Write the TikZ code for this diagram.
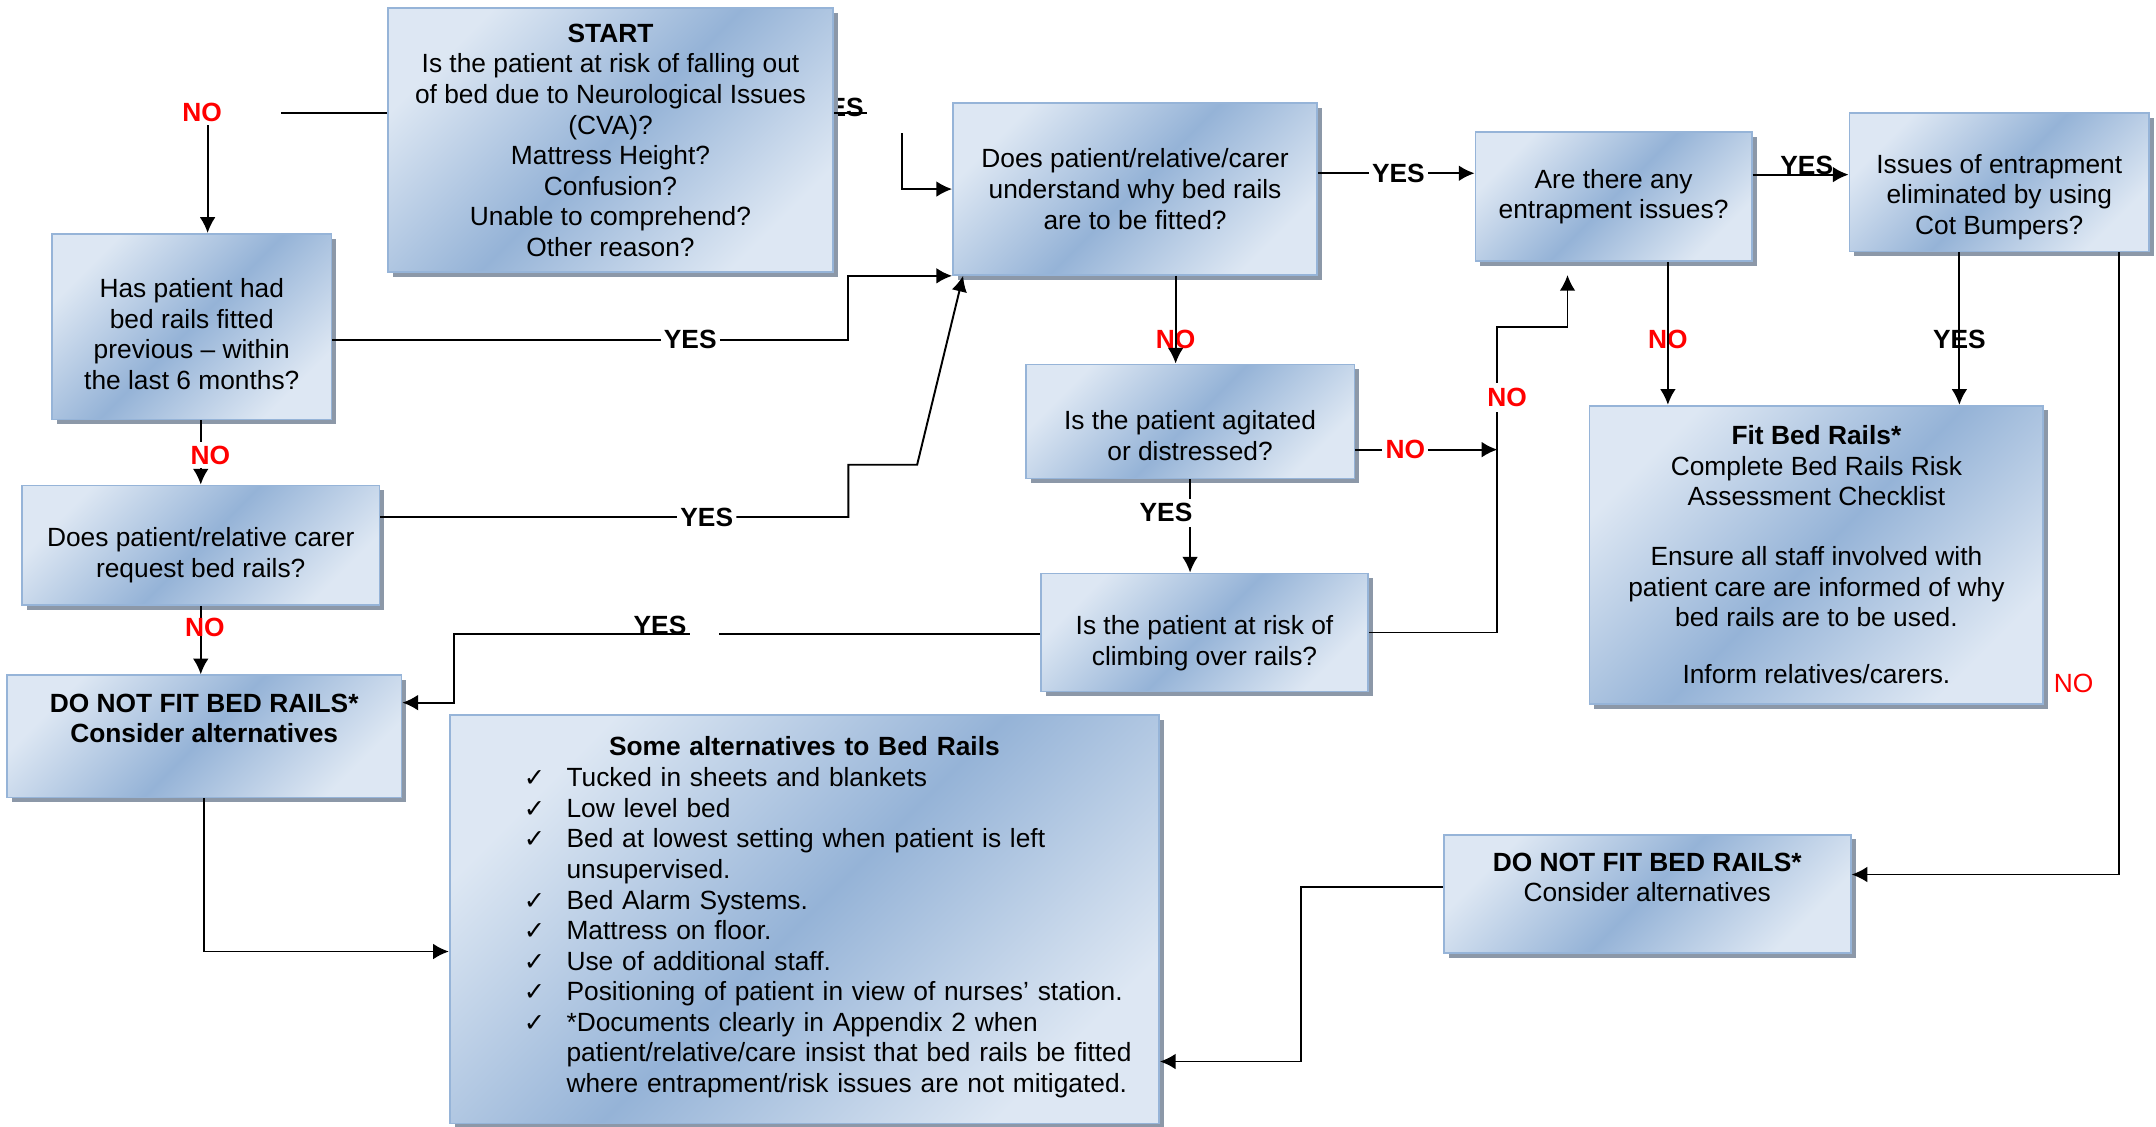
\documentclass[tikz,border=0pt]{standalone}
\usepackage{fontspec}
\setmainfont{Liberation Sans}
\newfontfamily\symfont{DejaVu Sans}
\usetikzlibrary{shadows, arrows.meta, calc}

\definecolor{boxlight}{RGB}{221,231,243}
\definecolor{boxdark}{RGB}{149,179,215}
\definecolor{boxedge}{RGB}{150,180,216}
\definecolor{boxshadow}{RGB}{140,152,168}

\newcommand{\boxfont}{\fontsize{10.9}{12.65}\selectfont}
\newcommand{\tick}{{\symfont\fontsize{10.5}{12}\selectfont ✓}}
\newcommand{\pushdown}[1]{\rule{0pt}{#1}}
\newcommand{\pushup}[1]{\rule[-#1]{0pt}{#1}}

\begin{document}
\begin{tikzpicture}[
    x=0.02cm, y=-0.02cm,
    >={Latex[length=6.5pt, width=6.5pt]},
    line width=0.8pt,
    box/.style={draw=boxedge, line width=0.7pt, top color=boxlight, bottom color=boxlight, middle color=boxdark, shading angle=45,
        drop shadow={shadow xshift=0.07cm, shadow yshift=-0.07cm, fill=boxshadow, opacity=1},
        align=center, font=\boxfont, inner sep=2pt},
    lbl/.style={font=\boxfont\bfseries, inner sep=1pt},
    lblno/.style={lbl, text=red},
    gap/.style={fill=white, inner sep=2pt}
]
\useasboundingbox (0,0) rectangle (1568,819);

% -------------------------------------------------------------------------
% Boxes (the YES behind START is placed first so the box hides its Y)
% -------------------------------------------------------------------------
\node[lbl] (yes0) at (609,78) {YES};

\node[box, minimum width=6.48cm, minimum height=3.84cm] (START) at (444,102) {\textbf{START}\\Is the patient at risk of falling out\\of bed due to Neurological Issues\\(CVA)?\\Mattress Height?\\Confusion?\\Unable to comprehend?\\Other reason?};

% Left column
\node[box, minimum width=4.06cm, minimum height=2.7cm] (HAS) at (139.5,237.5) {\pushdown{14pt}Has patient had\\bed rails fitted\\previous – within\\the last 6 months?};
\node[box, minimum width=5.2cm, minimum height=1.74cm] (REQ) at (146,396.5) {\pushdown{16.4pt}Does patient/relative carer\\request bed rails?};
\node[box, minimum width=5.74cm, minimum height=1.78cm] (DNF1) at (148.5,535.5) {\textbf{DO NOT FIT BED RAILS*}\\\textbf{Consider alternatives}\pushup{15pt}};

% Alternatives list
\node[box, minimum width=10.32cm, minimum height=5.94cm, text width=10.32cm, inner xsep=0pt, align=left] (ALT) at (585,668.5) {%
    {\centering\textbf{Some alternatives to Bed Rails}\par}\vspace*{2.8pt}
    \noindent\hspace*{1.08cm}\begin{tabular}{@{}p{0.62cm}@{}l@{}}
    \tick & Tucked in sheets and blankets\\
    \tick & Low level bed\\
    \tick & Bed at lowest setting when patient is left\\
          & unsupervised.\\
    \tick & Bed Alarm Systems.\\
    \tick & Mattress on floor.\\
    \tick & Use of additional staff.\\
    \tick & Positioning of patient in view of nurses’ station.\\
    \tick & *Documents clearly in Appendix 2 when\\
          & patient/relative/care insist that bed rails be fitted\\
          & where entrapment/risk issues are not mitigated.
    \end{tabular}\par\vspace*{0.34cm}};

% Middle column
\node[box, minimum width=5.3cm, minimum height=2.5cm] (UND) at (825.5,137.5) {Does patient/relative/carer\\understand why bed rails\\are to be fitted?};
\node[box, minimum width=4.78cm, minimum height=1.66cm] (AGI) at (865.5,306.5) {\pushdown{19.8pt}Is the patient agitated\\or distressed?};
\node[box, minimum width=4.76cm, minimum height=1.72cm] (CLI) at (876,460) {\pushdown{16.9pt}Is the patient at risk of\\climbing over rails?};

% Right columns
\node[box, minimum width=4.02cm, minimum height=1.88cm] (ENT) at (1173.5,143) {Are there any\\entrapment issues?};
\node[box, minimum width=4.36cm, minimum height=2.02cm] (ISS) at (1454,132.5) {\pushdown{20.3pt}Issues of entrapment\\eliminated by using\\Cot Bumpers?};
\node[box, minimum width=6.6cm, minimum height=4.34cm] (FIT) at (1321,403.5) {\textbf{Fit Bed Rails*}\\Complete Bed Rails Risk\\Assessment Checklist\\[12pt]Ensure all staff involved with\\patient care are informed of why\\bed rails are to be used.\\[11pt]Inform relatives/carers.};
\node[box, minimum width=5.92cm, minimum height=1.72cm] (DNF2) at (1198,650) {\textbf{DO NOT FIT BED RAILS*}\\Consider alternatives\pushup{13.6pt}};

% -------------------------------------------------------------------------
% Labels sitting in gaps of the lines
% -------------------------------------------------------------------------
\node[lblno] (no1) at (147,82) {NO};
\node[lbl] (yes1) at (502,247) {YES};
\node[lbl] (yes2) at (514,376) {YES};
\node[lblno] (no2) at (153,331) {NO};
\node[lbl] (yes3) at (480,455) {YES};
\node[lblno] (no4) at (855,247) {NO};
\node[lblno] (no5) at (1022,327) {NO};
\node[lbl] (yes5) at (1017,126) {YES};
\node[lbl, anchor=base] (yes6) at (1314,127) {YES};
\node[lblno] (no7) at (1213,247) {NO};
\node[lbl] (yes7) at (1425,247) {YES};

\coordinate (k1) at ([xshift=0.08cm]no1.south);
\coordinate (k2) at (656,97);
\coordinate (k3) at (523,461);
\coordinate (vbus) at (1089,238);
\coordinate (k6) at (1140,200);

% -------------------------------------------------------------------------
% Connectors
% -------------------------------------------------------------------------

% START: NO to the left, YES to the right
\draw (START.west |- no1) -- ++(-77,0);
\draw[->] (k1) -- (k1 |- HAS.north);
\draw (START.east |- 0,82) -- (yes0.east |- 0,82);
\draw[->] (k2) |- (UND.west);

% Has had rails -> YES
\draw (HAS.east |- yes1) -- (yes1.west);
\draw[->] (yes1.east) -- (617,247) |- (UND.south west);

% Has had rails -> NO -> request
\draw (REQ.north |- HAS.south) -- (REQ.north |- no2.north);
\draw[->] (REQ.north |- no2.south) -- (REQ.north);

% Request -> YES (dog-leg and slanted run)
\draw (REQ.east |- yes2) -- (yes2.west);
\draw[->] (yes2.east) -- (617,376) -- (617,338) -- (667,338) -- ([xshift=0.16cm]UND.south west);

% Request -> NO -> do not fit
\draw[->] (REQ.south) -- (REQ.south |- DNF1.north);
\node[lblno] (no3) at (149,456) {NO};

% Climbing -> YES -> do not fit
\draw (CLI.west |- k3) -- (k3);
\draw[->] (yes3.east |- k3) -- (330,461) |- (DNF1.east |- 0,511);

% Understand -> NO -> agitated
\draw[->] (UND.south -| no4) -- (no4 |- AGI.north);

% Agitated -> YES -> climbing
\draw[->] (AGI.south) -- (AGI.south |- CLI.north);
\node[lbl, gap] (yes4) at (848,373) {YES};

% Agitated -> NO -> bus
\draw (AGI.east |- no5) -- (no5.west);
\draw[->] (no5.east) -- (no5.east -| vbus);

% Climbing -> NO -> entrapment
\draw[->] (CLI.east) -| (vbus) -| (k6);
\node[lblno, gap] (no6) at (1096,289) {NO};

% Understand -> YES -> entrapment -> YES -> bumpers
\draw (UND.east |- yes5) -- (yes5.west);
\draw[->] (yes5.east) -- (ENT.west |- yes5);
\draw[->] (ENT.east |- yes6.base) -- (ISS.west |- yes6.base);

% Entrapment NO / bumpers YES -> fit
\draw[->] (ENT.south -| no7) -- (no7 |- FIT.north);
\draw[->] (ISS.south -| yes7) -- (yes7 |- FIT.north);

% Bumpers NO -> do not fit (right)
\draw[->] (ISS.south -| 1541,0) |- (DNF2.east |- 0,636);
\node[lblno, font=\boxfont] (no8) at (1508,497) {NO};

% Both "do not fit" boxes -> alternatives
\draw[->] (DNF1.south) |- (ALT.west |- 0,692);
\draw[->] (DNF2.west |- 0,645) -- (946,645) |- (ALT.east |- 0,772);

\end{tikzpicture}
\end{document}
